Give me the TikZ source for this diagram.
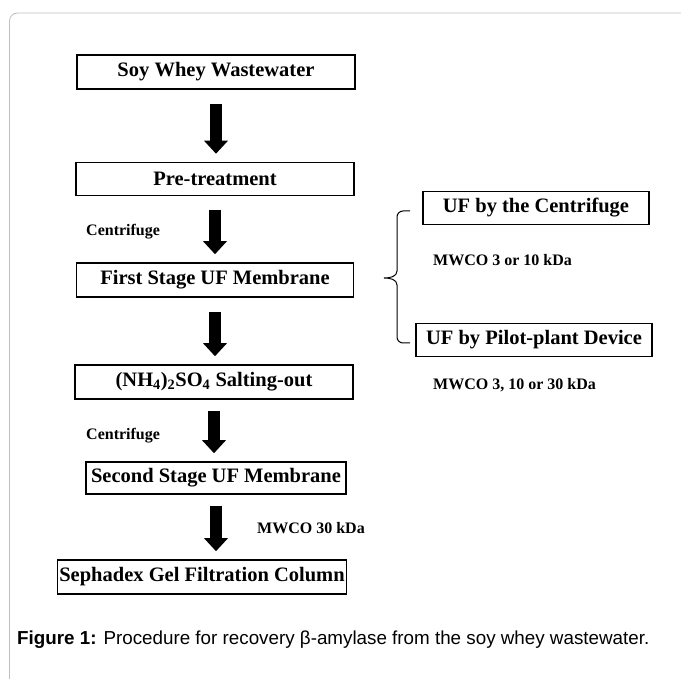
\documentclass[tikz,border=0pt]{standalone}
\usepackage{fontspec}
\setmainfont{Liberation Serif}
\newfontfamily\captionsans{Liberation Sans}
\usepackage{xcolor}
\usepackage{tikz}
\usetikzlibrary{arrows.meta}

\tikzset{
  stufe/.style={draw, line width=1.6pt, minimum height=34pt, inner sep=2pt,
    font=\bfseries\fontsize{20.5}{24}\selectfont},
  notiz/.style={anchor=west, inner sep=0pt, font=\bfseries\fontsize{16}{19}\selectfont},
  pfeil/.style={line width=12pt, -{Triangle[width=24pt,length=13pt,line width=0pt 0 0]},
    shorten <=14pt, shorten >=8pt}
}

\begin{document}
\begin{tikzpicture}[x=1pt,y=-1pt]
				\useasboundingbox (0,0) rectangle (681,679);
				% Rahmen
				\draw[gray!50, line width=0.8pt, rounded corners=8pt] (681,13) -- (9.5,13) -- (9.5,679);
				% Stufen
				\node[stufe, minimum width=278pt] (soy) at (216,72) {Soy Whey Wastewater};
				\node[stufe, minimum width=278pt, minimum height=33pt] (pre) at (215,179) {Pre-treatment};
				\node[stufe, minimum width=277pt] (first) at (215,280) {First Stage UF Membrane};
				\node[stufe, minimum width=278pt] (salt) at (214,382) {(NH\textsubscript{4})\textsubscript{2}SO\textsubscript{4} Salting-out};
				\node[stufe, minimum width=260pt, minimum height=32pt] (second) at (216,478) {Second Stage UF Membrane};
				\node[stufe, minimum width=288pt] (gel) at (202,577) {Sephadex Gel Filtration Column};
				% UF Varianten
				\node[stufe, minimum width=226pt, minimum height=33pt] (ufcent) at (536,208) {UF by the Centrifuge};
				\node[stufe, minimum width=236pt, minimum height=33pt] (ufpilot) at (534,340) {UF by Pilot-plant Device};
				% Pfeile
				\draw[pfeil] (soy.south) -- (soy.south |- pre.north);
				\draw[pfeil] (pre.south) -- (pre.south |- first.north);
				\draw[pfeil] (first.south) -- (first.south |- salt.north);
				\draw[pfeil, shorten <=11pt] (salt.south) -- (salt.south |- second.north);
				\draw[pfeil, shorten <=11pt] (second.south) -- (second.south |- gel.north);
				% Klammer
				\draw[line width=1pt] (410,211) -- (403,211) to[out=180,in=90] (397,217) -- (397,271)
				  to[out=-90,in=0] (384,278) to[out=0,in=90] (397,285) -- (397,337)
				  to[out=-90,in=180] (403,343) -- (410,343);
				% Beschriftungen
				\node[notiz] (zent1) at (86,232) {Centrifuge};
				\node[notiz] (zent2) at (86,436) {Centrifuge};
				\node[notiz] (mwco1) at (433,260) {MWCO 3 or 10 kDa};
				\node[notiz] (mwco2) at (433,385) {MWCO 3, 10 or 30 kDa};
				\node[notiz] (mwco3) at (257,528) {MWCO 30 kDa};
				% Bildunterschrift
				\node[anchor=west, inner sep=0pt, font=\captionsans\fontsize{18.8}{22}\selectfont] (caption) at (17,640)
				  {\textbf{Figure 1:} Procedure for recovery β-amylase from the soy whey wastewater.};
			\end{tikzpicture}
\end{document}
